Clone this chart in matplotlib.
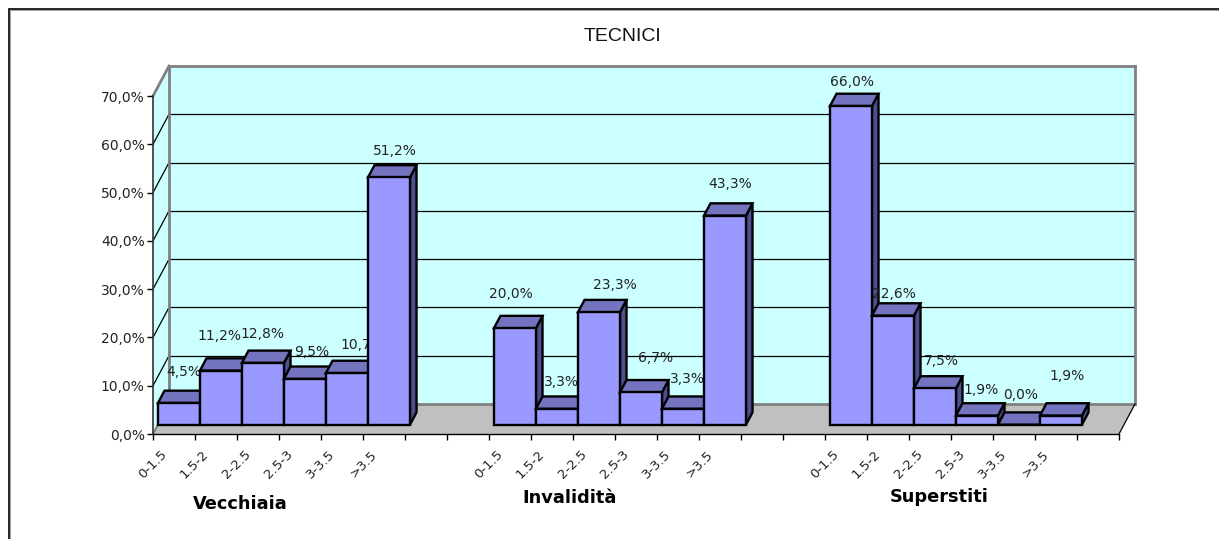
import matplotlib
matplotlib.use("Agg")
import matplotlib.pyplot as plt
from matplotlib.lines import Line2D
from matplotlib.patches import Polygon
from matplotlib.transforms import ScaledTranslation

categories = ["0-1.5", "1.5-2", "2-2.5", "2.5-3", "3-3.5", ">3.5"]
vecchiaia = [4.5, 11.2, 12.8, 9.5, 10.7, 51.2]
invalidita = [20.0, 3.3, 23.3, 6.7, 3.3, 43.3]
superstiti = [66.0, 22.6, 7.5, 1.9, 0.0, 1.9]
groups = ["Vecchiaia", "Invalidità", "Superstiti"]
y_ticks = [0, 10, 20, 30, 40, 50, 60, 70]

# data labels were moved by hand in the original, offsets in pixels
nudge_vecchiaia = [(5, 31), (-2, 35), (-1, 29), (7, 27), (15, 28), (6, 26)]
nudge_invalidita = [(-4, 34), (4, 27), (16, 27), (15, 34), (4, 30), (5, 32)]
nudge_superstiti = [(1, 24), (1, 22), (6, 27), (4, 26), (2, 30), (6, 40)]

WALL = "#CCFFFF"
FLOOR = "#C0C0C0"
FRONT = "#9999FF"
TOP = "#7373BF"
SIDE = "#4F4F8F"
GREY = "#808080"
TXT = "#222222"

W, H = 1219, 539
n_slots = 23
ymax = 70
# depth of the 3d box in data units
dx = 16 / 42
dy = 30 / 338 * ymax


def p(x, y, d=0.0):
    return (x + d * dx, y + d * dy)


def fmt(v):
    return f"{v:.1f}".replace(".", ",") + "%"


fig = plt.figure(figsize=(W / 100, H / 100), dpi=100)
ax = fig.add_axes([153 / W, (H - 434) / H, 966 / W, 338 / H])
ax.set_xlim(0, n_slots)
ax.set_ylim(0, ymax)
ax.patch.set_visible(False)
for s in ["top", "right"]:
    ax.spines[s].set_visible(False)
ax.spines["left"].set_linewidth(1.2)
ax.spines["left"].set_color("#333333")
ax.spines["bottom"].set_linewidth(1.0)


def poly(pts, fc, ec="none", lw=0, z=1):
    ax.add_patch(Polygon(pts, closed=True, facecolor=fc, edgecolor=ec, linewidth=lw,
                         joinstyle="miter", clip_on=False, zorder=z))


def seg(a, b, color, lw, z=1.5):
    ax.plot([a[0], b[0]], [a[1], b[1]], color=color, lw=lw, clip_on=False, zorder=z,
            solid_capstyle="projecting")


# walls and floor
poly([p(0, 0, 1), p(n_slots, 0, 1), p(n_slots, ymax, 1), p(0, ymax, 1)], WALL)
poly([p(0, 0), p(0, 0, 1), p(0, ymax, 1), p(0, ymax)], WALL)
poly([p(0, 0), p(n_slots, 0), p(n_slots, 0, 1), p(0, 0, 1)], FLOOR)
for t in y_ticks[1:-1]:
    seg(p(0, t, 1), p(n_slots, t, 1), "black", 0.9)
    seg(p(0, t), p(0, t, 1), "black", 0.9)
seg(p(0, ymax, 1), p(n_slots, ymax, 1), GREY, 2)
seg(p(0, 0, 1), p(0, ymax, 1), GREY, 2)
seg(p(n_slots, 0, 1), p(n_slots, ymax, 1), GREY, 2)
seg(p(0, 0, 1), p(n_slots, 0, 1), GREY, 2)
seg(p(0, ymax), p(0, ymax, 1), GREY, 2)
seg(p(0, 0), p(0, 0, 1), GREY, 1.5)
seg(p(n_slots, 0), p(n_slots, 0, 1), "black", 0.9)

# bars, each one covers the label of the bar before it
d0, d1 = 0.31, 0.72
z = 3
for start, values, nudges in [(0, vecchiaia, nudge_vecchiaia),
                              (8, invalidita, nudge_invalidita),
                              (16, superstiti, nudge_superstiti)]:
    for i, v in enumerate(values):
        x0, x1 = start + i, start + i + 1
        poly([p(x1, 0, d0), p(x1, 0, d1), p(x1, v, d1), p(x1, v, d0)], SIDE, "black", 1.7, z)
        poly([p(x0, v, d0), p(x1, v, d0), p(x1, v, d1), p(x0, v, d1)], TOP, "black", 1.7, z)
        poly([p(x0, 0, d0), p(x1, 0, d0), p(x1, v, d0), p(x0, v, d0)], FRONT, "black", 1.7, z)
        ax.annotate(fmt(v), xy=p(x0 + 0.5, v, d0), xytext=nudges[i], textcoords="offset pixels",
                    ha="center", va="center", fontsize=10, color=TXT, zorder=z + 0.5,
                    annotation_clip=False)
        z += 1

# axes ticks
ax.set_yticks(y_ticks)
ax.set_yticklabels([fmt(t) for t in y_ticks], fontsize=10, color=TXT)
ax.tick_params(axis="y", length=4.5, width=1.0, pad=1.5)
ax.set_xticks(range(n_slots + 1))
ax.set_xticklabels([])
ax.tick_params(axis="x", which="major", length=4.5, width=1.0)
slots = [s + i + 0.5 for s in (0, 8, 16) for i in range(len(categories))]
ax.set_xticks(slots, minor=True)
ax.set_xticklabels(categories * 3, minor=True, fontsize=9.5, color=TXT, rotation=45,
                   ha="right", va="top", rotation_mode="anchor")
ax.tick_params(axis="x", which="minor", length=0, pad=12)
shift = ScaledTranslation(-14 / 100, 3 / 100, fig.dpi_scale_trans)
for lab in ax.get_xticklabels(minor=True):
    lab.set_transform(lab.get_transform() + shift)

# group names, title and the chart frame
for name, xp, yp in zip(groups, [240, 570, 939], [504, 498, 497]):
    fig.text(xp / W, 1 - yp / H, name, ha="center", va="center", fontsize=12.8,
             fontweight="bold", color="black")
fig.text(622 / W, 1 - 36 / H, "TECNICI", ha="center", va="center", fontsize=14,
         family="Liberation Sans", color="#111111")
fig.add_artist(Line2D([9.8 / W, 9.8 / W, 1], [0, 1 - 10.3 / H, 1 - 10.3 / H], color="#A0A0A0", lw=0.7,
                      solid_joinstyle="miter"))
fig.add_artist(Line2D([8.5 / W, 8.5 / W, 1], [0, 1 - 9 / H, 1 - 9 / H], color="black", lw=1.2,
                      solid_joinstyle="miter"))

fig.savefig("out.png", dpi=100, facecolor="white")
